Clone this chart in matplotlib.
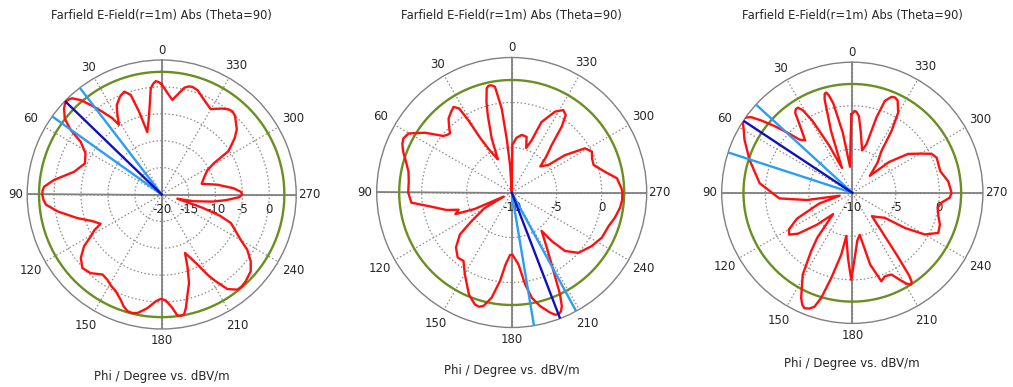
import numpy as np
import matplotlib
matplotlib.use("Agg")
import matplotlib.pyplot as plt
from matplotlib.transforms import offset_copy

# ---------------- data ----------------
TITLE = "Farfield E-Field(r=1m) Abs (Theta=90)"
XLABEL = "Phi / Degree vs. dBV/m"
angle_ticks = list(range(0, 360, 30))
angle_labels = [str(a) for a in angle_ticks]

# panel 1
p1_phi = [0, 1.5, 3, 4.5, 5.9, 7.6, 10, 13, 15.3, 17.3, 20, 23, 26.7, 29, 31.5, 32.9,
          35.6, 38.4, 40.6, 42.9, 44.2, 45.5, 47, 48.6, 51.9, 54.7, 56.9, 61.6, 68, 75.4,
          82.3, 86.2, 88, 90, 92.5, 95, 99.2, 105.6, 111, 115.6, 118, 120.5, 123.7,
          128.1, 132.8, 137.9, 143.5, 147.5, 151, 154.6, 158.7, 161, 163.6, 166, 168.4,
          172.8, 176.8, 179.5, 182.2, 185.4, 187.4, 189, 190.5, 192, 194.1, 197.2, 199.7,
          201.7, 203.8, 207, 209.7, 211.9, 214.8, 218.5, 221, 224.1, 229.2, 233.1, 237.2,
          240.2, 244, 247.6, 250, 252, 255, 258, 262, 265, 268, 270, 272, 275, 280, 285,
          292, 298, 301, 303, 307.6, 311, 314.5, 317, 319.8, 322, 325, 330.2, 337, 341,
          344.1, 346, 348, 353.6, 357]
p1_db = [0.5, 0.9, 1.1, 0.6, -0.2, -3.2, -6.0, -8.1, -4.0, -0.6, 0.35, -0.2, -1.4, -3.0,
         -4.8, -3.1, -1.1, 1.2, 3.1, 4.4, 4.7, 4.8, 4.6, 4.2, 2.9, 0.7, -2.0, -3.9, -4.6,
         -3.2, 0.2, 1.9, 2.15, 2.2, 2.0, 1.6, -0.4, -3.7, -6.2, -7.4, -5.8, -4.7, -2.65,
         -0.9, 0.1, -0.3, -1.5, -1.2, -0.6, -0.1, 1.0, 1.9, 2.6, 2.7, 2.5, 1.3, -0.1,
         -0.6, -0.3, 1.2, 2.7, 2.8, 2.7, 1.6, -0.5, -2.8, -5.8, -8.3, -7.4, -5.4, -2.85,
         -1.0, 1.4, 2.6, 2.65, 2.45, 1.85, 0.7, -1.1, -3.1, -4.8, -6.1, -8.5, -12.0,
         -17.0, -14.0, -10.5, -8.0, -5.6, -5.0, -5.3, -6.6, -9.5, -12.3, -11.5, -10.4,
         -8.6, -5.2, -2.9, -1.5, -0.7, 0.0, 0.3, 0.1, -0.5, -1.7, -0.5, 0.5, 0.8, 0.7,
         0.3, -2.3, -1.0]
p1_rticks = [-20, -15, -10, -5, 0]
p1_rmax = 5
p1_green = 2.8
p1_main = 46.0
p1_edges = [37.5, 54.5]

# panel 2
p2_phi = [0.5, 3.5, 5.3, 6.8, 9, 10.5, 11.5, 12.5, 13.5, 15.5, 17.2, 20.3, 22.7, 25, 28,
          30, 31, 32, 34.2, 37, 40.5, 44, 46.2, 48, 50.4, 55.4, 60.2, 63.4, 66, 69.3,
          74, 78.6, 84, 90, 95.8, 99.2, 105, 108, 111, 114, 117, 120, 125.5, 129, 134.6,
          140.4, 144.8, 150.3, 157.3, 161.8, 164, 166, 169.2, 172.5, 175.2, 178.5, 180.6,
          185.3, 188.3, 190.8, 194, 197.7, 199.5, 201, 202.5, 203.8, 205.4, 209.1, 212.4,
          217.9, 219.5, 222.4, 227.9, 236.2, 243.4, 250.9, 256.3, 262, 266, 270, 272.2,
          277.7, 282.6, 288.6, 293, 297, 301.1, 305.1, 306.9, 312.4, 316, 319.9, 322.8,
          325.1, 328, 331.8, 337.1, 339.1, 342, 345, 350.1, 355, 359.2]
p2_db = [-9.7, -6.9, -4.0, -0.6, 1.9, 2.1, 2.15, 2.1, 1.9, 0.5, -1.0, -3.6, -6.0, -5.5,
         -4.5, -3.0, -0.6, 1.0, 1.5, 1.2, 0.8, 0.0, -0.5, -0.4, -0.15, 1.7, 3.2, 3.45,
         3.3, 2.9, 2.2, 1.7, 1.5, 1.5, 1.2, -0.6, -2.5, -3.8, -3.3, -5.5, -9.0, -6.5,
         -4.5, -2.6, -1.3, -0.6, -0.7, 0.5, 2.3, 3.1, 3.2, 3.0, 1.9, -0.1, -2.0, -3.05,
         -3.1, -2.0, 0.3, 1.9, 3.0, 4.0, 4.4, 4.5, 4.3, 3.8, 2.5, -0.9, -2.7, -4.6, -3.0,
         -1.2, 0.0, 0.7, 1.2, 1.4, 1.8, 2.15, 2.3, 2.3, 2.2, 1.8, 0.6, -0.4, -0.3, 0.0,
         -0.5, -2.8, -4.9, -5.7, -4.5, -3.1, -0.8, 0.5, 0.8, 0.2, -1.5, -3.8, -4.8, -3.6,
         -3.5, -3.9, -4.7]
p2_rticks = [-10, -5, 0]
p2_rmax = 5
p2_green = 2.5
p2_main = 201.0
p2_edges = [189.5, 208.5]

# panel 3
p3_phi = [0.7, 1.9, 5, 9, 12, 13.5, 14.6, 15.6, 16.5, 19, 22.6, 26, 29, 31, 32.6, 34,
          35.5, 38.5, 42, 44.75, 47.1, 49.4, 51.6, 53.2, 54.8, 56.2, 57.5, 60, 63.8, 72.2,
          84.1, 94.4, 99, 103, 108, 115, 120, 123.5, 127, 132, 138, 142, 144.8, 148.8,
          154.1, 156, 157.5, 159.5, 161.6, 163.5, 166.1, 169.9, 172.1, 176.2, 179.3,
          182.1, 186, 190, 194, 198.2, 201.2, 205.6, 209.2, 211, 212.5, 213.7, 214.5,
          215.5, 217, 220, 226, 232.4, 236.3, 240.1, 245, 250.1, 254.8, 260.1, 263.7,
          267.1, 270, 276.8, 283.8, 292.5, 296.2, 300, 304.9, 310, 314, 320, 325, 327.6,
          330.2, 333.8, 335.8, 337.8, 340.5, 342.2, 343.8, 347, 352, 355, 357, 358.4]
p3_db = [-1.0, -4.1, -7.0, -3.0, 0.5, 1.5, 1.9, 1.8, 1.2, -2.5, -6.9, -4.0, -0.5, 1.1,
         1.6, 1.6, 1.3, -0.5, -1.9, -1.4, 0.1, 1.8, 3.4, 4.5, 5.0, 5.2, 4.9, 4.4, 3.8,
         2.4, 0.7, -1.6, -4.7, -8.5, -6.0, -3.0, -1.6, -1.3, -2.2, -4.5, -6.7, -3.5,
         -1.8, 1.0, 3.45, 4.1, 4.35, 4.2, 3.8, 2.6, 0.1, -2.8, -5.0, -2.5, 0.0, -2.5,
         -4.5, -5.1, -1.5, 0.7, 0.3, 0.4, 1.6, 2.2, 2.5, 2.3, 1.5, -1.0, -4.0, -6.5,
         -6.0, -5.3, -2.7, -0.4, 0.9, 0.7, 0.25, -0.05, 0.3, 1.2, 1.4, 1.1, 0.4, 0.5,
         0.15, -1.0, -2.2, -4.5, -7.2, -5.5, -4.2, -1.6, 0.6, 1.8, 2.0, 1.9, 1.2, -0.9,
         -4.2, -5.0, -3.0, -1.2, -0.7, -0.6]
p3_rticks = [-10, -5, 0]
p3_rmax = 5
p3_green = 2.5
p3_main = 56.5
p3_edges = [47.5, 72.0]

# ---------------- layout / style ----------------
W, H = 1013, 387
fig = plt.figure(figsize=(W / 100, H / 100), dpi=100)
fig.patch.set_facecolor("white")

# (centre x px, centre y px from top, radius px, title y, xlabel y)
layout = [(161.7, 194.5, 134.5, 15, 376.5),
          (511.7, 192.5, 135.0, 15, 370.5),
          (852.3, 192.8, 130.6, 16, 363.0)]
# gap (px) between outer circle and the centre of each angle label
label_gap = [10, 12.5, 17, 12, 17, 16.5, 12, 16.5, 17, 13, 17, 15]

TXT = "#262626"
GRID = "#8c8c8c"
AX = "#808080"
RED = "#ff1010"
GREEN = "#6b8e23"
LBLUE = "#2a9df4"
DBLUE = "#1010c0"

panels = [
    (p1_phi, p1_db, p1_rticks, p1_rmax, p1_green, p1_main, p1_edges),
    (p2_phi, p2_db, p2_rticks, p2_rmax, p2_green, p2_main, p2_edges),
    (p3_phi, p3_db, p3_rticks, p3_rmax, p3_green, p3_main, p3_edges),
]

for (phi, db, rticks, rmax, green, main, edges), (cx, cy, rad, ty, xy) in zip(panels, layout):
    ax = fig.add_axes([(cx - rad) / W, (H - cy - rad) / H, 2 * rad / W, 2 * rad / H],
                      projection="polar")
    rmin = rticks[0]
    ax.set_theta_zero_location("N")
    ax.set_theta_direction(1)
    ax.set_ylim(rmin, rmax)
    ax.set_xticks(np.deg2rad(angle_ticks))
    ax.set_xticklabels([])
    ax.set_yticks(rticks[1:])
    ax.set_yticklabels([])
    ax.grid(True, color=GRID, linestyle=(0, (1.2, 1.8)), linewidth=0.9)
    ax.spines["polar"].set_color(AX)
    ax.spines["polar"].set_linewidth(1.0)

    per_px = (rmax - rmin) / rad
    for a, lab, g in zip(angle_ticks, angle_labels, label_gap):
        ax.text(np.deg2rad(a), rmax + g * per_px, lab, ha="center", va="center",
                fontsize=8.5, color=TXT, clip_on=False)

    for a in (0, 90, 180, 270):
        ax.plot([np.deg2rad(a)] * 2, [rmin, rmax], color=AX, lw=1.3, zorder=2)

    th = np.linspace(0, 2 * np.pi, 721)
    ax.plot(th, np.full_like(th, green), color=GREEN, lw=1.7, zorder=3)

    tr = offset_copy(ax.transData, fig=fig, y=-15, units="dots")
    for r in rticks:
        ax.text(np.deg2rad(270), r, str(r), transform=tr, ha="center", va="center",
                fontsize=8.5, color=TXT, zorder=3)

    pp = np.deg2rad(list(phi) + [phi[0]])
    dd = list(db) + [db[0]]
    ax.plot(pp, dd, color=RED, lw=1.7, zorder=5, solid_joinstyle="round")

    for e in edges:
        ax.plot([0, np.deg2rad(e)], [rmin, rmax], color=LBLUE, lw=1.7, zorder=6)
    ax.plot([0, np.deg2rad(main)], [rmin, rmax], color=DBLUE, lw=1.7, zorder=7)

    fig.text(cx / W, 1 - ty / H, TITLE, ha="center", va="center", fontsize=8.3, color=TXT)
    fig.text(cx / W, 1 - xy / H, XLABEL, ha="center", va="center", fontsize=8.5, color=TXT)

fig.savefig("out.png", dpi=100, facecolor="white")
